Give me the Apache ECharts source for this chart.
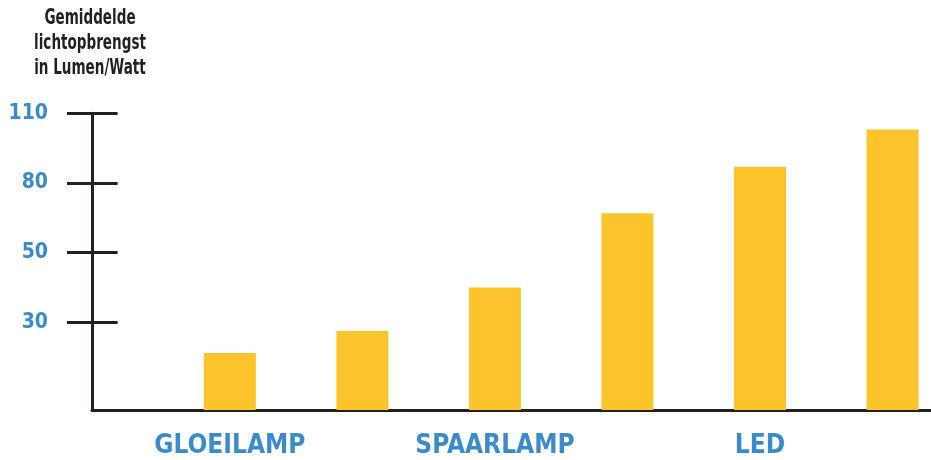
<!DOCTYPE html>
<html>
<head>
<meta charset="utf-8">
<script src="https://cdn.jsdelivr.net/npm/echarts@6/dist/echarts.min.js"></script>
<style>html,body{margin:0;padding:0;background:#fff}#c{width:931px;height:460px}</style>
</head>
<body>
<div id="c"></div>
<script>
// Data (Lumen/Watt)
const categories = ['GLOEILAMP', '', 'SPAARLAMP', '', 'LED', ''];
const values = [19.5, 27, 40, 67, 87, 103];
const yTickLabels = [30, 50, 80, 110];
const titleLines = ['Gemiddelde', 'lichtopbrengst', 'in Lumen/Watt'];

// The source chart uses evenly spaced ticks with uneven steps (0,30,50,80,110);
// map values piecewise onto that drawn scale.
const knotsV = [0, 30, 50, 80, 110];
const knotsS = [0, 1.259, 2.259, 3.259, 4.259];
function toScale(v) {
  for (let i = 1; i < knotsV.length; i++) {
    if (v <= knotsV[i] || i === knotsV.length - 1) {
      const t = (v - knotsV[i - 1]) / (knotsV[i] - knotsV[i - 1]);
      return knotsS[i - 1] + t * (knotsS[i] - knotsS[i - 1]);
    }
  }
}
const tickPos = yTickLabels.map(toScale);
const labelIdx = categories.map((c, i) => c ? i : -1).filter(i => i >= 0);

const FONT = '"DejaVu Sans Condensed", "DejaVu Sans", sans-serif';
const BLUE = '#3a8bcb';
const INK = '#231f20';

const chart = echarts.init(document.getElementById('c'), null, {renderer: 'canvas'});
chart.setOption({
  animation: false,
  grid: {left: 92, right: 0, top: 113.3, bottom: 50, containLabel: false},
  graphic: [{
    type: 'text', x: 90, y: 6, scaleX: 0.7,
    style: {
      text: titleLines.join('\n'), align: 'center', verticalAlign: 'top',
      font: 'bold 21.5px ' + FONT, lineHeight: 25, fill: INK
    }
  }],
  xAxis: {
    type: 'value', min: -1.04, max: 5.29,
    splitLine: {show: false},
    axisTick: {show: false},
    axisLine: {show: true, onZero: false, lineStyle: {color: INK, width: 3}},
    axisLabel: {
      customValues: labelIdx,
      formatter: v => categories[Math.round(v)] || '',
      color: BLUE, fontFamily: FONT, fontWeight: 'bold', fontSize: 26,
      margin: 23
    }
  },
  yAxis: [{
    type: 'value', min: 0, max: 4.259,
    splitLine: {show: false},
    axisLine: {show: true, onZero: false, lineStyle: {color: INK, width: 3}},
    axisTick: {show: true, inside: false, length: 25, customValues: tickPos, lineStyle: {color: INK, width: 3}},
    axisLabel: {
      customValues: tickPos,
      formatter: v => {
        const i = tickPos.findIndex(p => Math.abs(p - v) < 1e-6);
        return i >= 0 ? String(yTickLabels[i]) : '';
      },
      color: BLUE, fontFamily: FONT, fontWeight: 'bold', fontSize: 21, margin: 44
    }
  }, {
    type: 'value', min: 0, max: 4.259, position: 'left',
    splitLine: {show: false},
    axisLine: {show: false, onZero: false},
    axisLabel: {show: false},
    axisTick: {show: true, inside: true, length: 25.6, customValues: tickPos, lineStyle: {color: INK, width: 3}}
  }],
  series: [{
    type: 'bar', yAxisIndex: 0, barWidth: 52,
    itemStyle: {color: '#fbc42a'},
    data: values.map((v, i) => [i, toScale(v)])
  }]
});
</script>
</body>
</html>
